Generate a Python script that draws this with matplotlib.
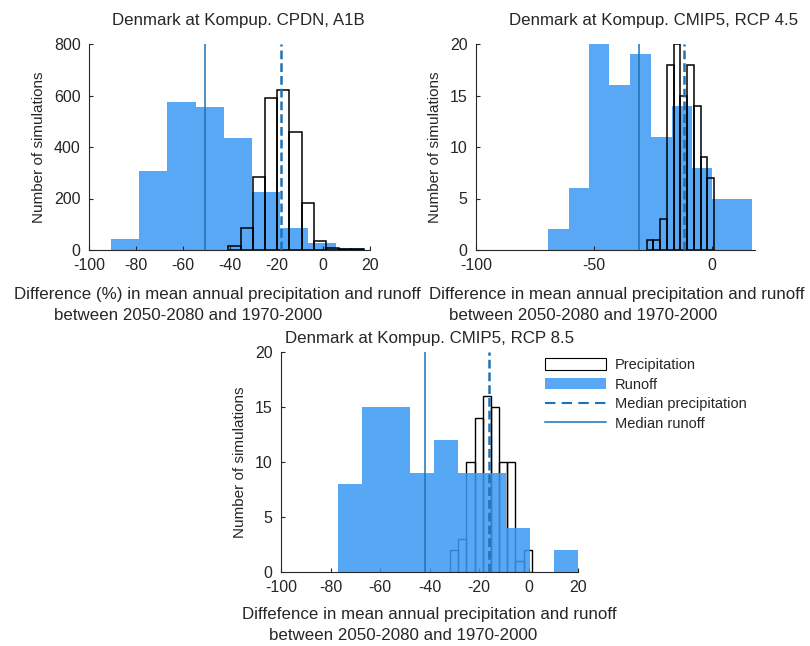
import numpy as np
import matplotlib.pyplot as plt
from matplotlib.patches import Patch
from matplotlib.lines import Line2D

plt.rcParams['font.family'] = ['Liberation Sans', 'DejaVu Sans']
plt.rcParams['text.color'] = '#262626'
plt.rcParams['axes.labelcolor'] = '#262626'
plt.rcParams['axes.unicode_minus'] = False

BLUE = '#58A8F5'
MED = '#1F72B4'
GREY = '#262626'

# CPDN, A1B
cpdn_runoff_edges = [-90.5, -78.5, -66.5, -54.5, -42.5, -30.5, -18.5, -6.5, 5.5, 17.5]
cpdn_runoff_counts = [43, 308, 576, 557, 436, 224, 84, 26, 6]
cpdn_precip_edges = [-40.5, -35.1, -30.0, -24.8, -19.6, -14.4, -9.2, -3.9, 1.4, 6.7, 12.0, 17.3]
cpdn_precip_counts = [16, 84, 285, 592, 621, 460, 181, 36, 6, 4, 2]
cpdn_median_precip = -18.2
cpdn_median_runoff = -50.5

# CMIP5, RCP 4.5
rcp45_runoff_edges = [-69.3, -60.5, -52.0, -43.6, -34.7, -25.9, -17.0, -8.5, 0.3, 8.6, 17.0]
rcp45_runoff_counts = [2, 6, 20, 16, 19, 11, 14, 8, 5, 5]
rcp45_precip_edges = [-27.6, -24.7, -21.9, -19.0, -16.1, -13.3, -10.4, -7.5, -4.6, -1.8, 1.1]
rcp45_precip_counts = [1, 1, 3, 18, 20, 15, 18, 14, 9, 7]
rcp45_median_precip = -11.7
rcp45_median_runoff = -30.8

# CMIP5, RCP 8.5
rcp85_runoff_edges = [-77.0, -67.3, -57.6, -47.9, -38.2, -28.5, -18.8, -9.1, 0.6, 10.4, 20.1]
rcp85_runoff_counts = [8, 15, 15, 9, 12, 9, 9, 4, 0, 2]
rcp85_precip_edges = [-31.7, -28.4, -25.1, -21.8, -18.5, -15.2, -11.9, -8.6, -5.3, -1.9, 1.4]
rcp85_precip_counts = [2, 3, 10, 14, 16, 15, 10, 10, 1, 2]
rcp85_median_precip = -16.0
rcp85_median_runoff = -41.8

fig = plt.figure(figsize=(8.1, 6.46), dpi=100)
W, H = 810, 646


def px_axes(left, top, right, bottom):
    return fig.add_axes([left / W, 1 - bottom / H, (right - left) / W, (bottom - top) / H])


def draw(ax, r_edges, r_counts, p_edges, p_counts, med_p, med_r, ymax, precip_on_top=True):
    p_edges = np.array(p_edges)
    if precip_on_top:
        ax.stairs(r_counts, r_edges, fill=True, color=BLUE, zorder=1)
        ax.bar(p_edges[:-1], p_counts, width=np.diff(p_edges), align='edge',
               facecolor='none', edgecolor='black', linewidth=1.1, zorder=2)
    else:
        ax.bar(p_edges[:-1], p_counts, width=np.diff(p_edges), align='edge',
               facecolor='none', edgecolor='black', linewidth=1.0, zorder=1)
        ax.stairs(r_counts, r_edges, fill=True, color='#3A99F3', alpha=0.85, zorder=2)
    ax.axvline(med_p, color=MED, linestyle=(0, (3.5, 1.6)), linewidth=1.8, zorder=3)
    ax.axvline(med_r, color=MED, linewidth=1.1, zorder=3)
    ax.set_ylim(0, ymax)
    for s in ['top', 'right']:
        ax.spines[s].set_visible(False)
    for s in ['left', 'bottom']:
        ax.spines[s].set_color(GREY)
        ax.spines[s].set_linewidth(0.8)
    ax.tick_params(direction='in', length=3, width=0.8, colors=GREY, labelsize=11.5)
    ax.tick_params(axis='y', pad=6)
    ax.tick_params(axis='x', pad=6)
    ax.set_ylabel('Number of simulations', fontsize=11, labelpad=6)


def title(ax, text, xfrac, off_px):
    ax.annotate(text, xy=(xfrac, 1), xycoords='axes fraction', xytext=(0, off_px * 0.72),
                textcoords='offset points', ha='center', va='center', fontsize=12.2)


def xlabel(ax, line1, line2, x1, x2, off1, off2):
    ax.annotate(line1, xy=(x1, 0), xycoords='axes fraction', xytext=(0, -off1 * 0.72),
                textcoords='offset points', ha='center', va='center', fontsize=12.2)
    ax.annotate(line2, xy=(x2, 0), xycoords='axes fraction', xytext=(0, -off2 * 0.72),
                textcoords='offset points', ha='center', va='center', fontsize=12.2)


ax1 = px_axes(89, 44, 370, 250)
draw(ax1, cpdn_runoff_edges, cpdn_runoff_counts, cpdn_precip_edges, cpdn_precip_counts,
     cpdn_median_precip, cpdn_median_runoff, 800)
ax1.set_xlim(-100, 20)
ax1.set_xticks([-100, -80, -60, -40, -20, 0, 20])
ax1.set_yticks([0, 200, 400, 600, 800])
title(ax1, 'Denmark at Kompup. CPDN, A1B', 0.53, 24)
xlabel(ax1, 'Difference (%) in mean annual precipitation and runoff',
       'between 2050-2080 and 1970-2000', 0.457, 0.352, 44, 66)

ax2 = px_axes(476, 44, 755, 250)
draw(ax2, rcp45_runoff_edges, rcp45_runoff_counts, rcp45_precip_edges, rcp45_precip_counts,
     rcp45_median_precip, rcp45_median_runoff, 20)
ax2.set_xlim(-100, 18.4)
ax2.set_xticks([-100, -50, 0])
ax2.set_yticks([0, 5, 10, 15, 20])
title(ax2, 'Denmark at Kompup. CMIP5, RCP 4.5', 0.638, 24)
xlabel(ax2, 'Difference in mean annual precipitation and runoff',
       'between 2050-2080 and 1970-2000', 0.505, 0.384, 44, 66)

ax3 = px_axes(281, 352, 578, 572)
draw(ax3, rcp85_runoff_edges, rcp85_runoff_counts, rcp85_precip_edges, rcp85_precip_counts,
     rcp85_median_precip, rcp85_median_runoff, 20, precip_on_top=False)
ax3.set_xlim(-100, 20)
ax3.set_xticks([-100, -80, -60, -40, -20, 0, 20])
ax3.set_yticks([0, 5, 10, 15, 20])
title(ax3, 'Denmark at Kompup. CMIP5, RCP 8.5', 0.5, 14)
xlabel(ax3, 'Diffefence in mean annual precipitation and runoff',
       'between 2050-2080 and 1970-2000', 0.5, 0.41, 42, 64)

handles = [
    Patch(facecolor='white', edgecolor='black', linewidth=0.8),
    Patch(facecolor=BLUE, edgecolor='none'),
    Line2D([], [], color=MED, linestyle=(0, (5, 3)), linewidth=1.5),
    Line2D([], [], color=MED, linewidth=1.1),
]
labels = ['Precipitation', 'Runoff', 'Median precipitation', 'Median runoff']
fig.legend(handles, labels, loc='upper left', bbox_to_anchor=(545 / W, 1 - 358 / H),
           frameon=False, fontsize=10.5, handlelength=4.2, handleheight=0.85,
           handletextpad=0.6, labelspacing=0.38, borderpad=0, borderaxespad=0)

fig.savefig('out.png', dpi=100)
